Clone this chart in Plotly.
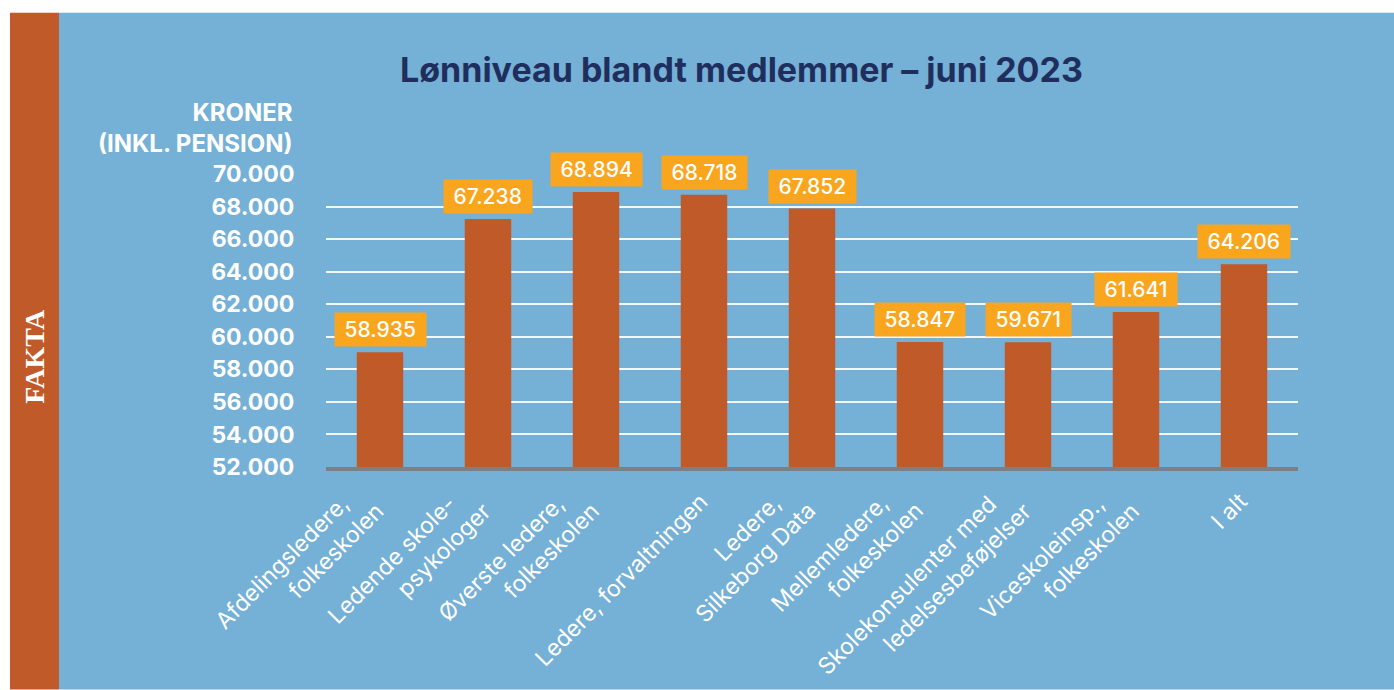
import plotly.graph_objects as go

# ---- data ----
categories = [
    "Afdelingsledere,<br>folkeskolen",
    "Ledende skole-<br>psykologer",
    "Øverste ledere,<br>folkeskolen",
    "Ledere, forvaltningen",
    "Ledere,<br>Silkeborg Data",
    "Mellemledere,<br>folkeskolen",
    "Skolekonsulenter med<br>ledelsesbeføjelser",
    "Viceskoleinsp.,<br>folkeskolen",
    "I alt",
]
# bar heights as drawn in the picture
bar_values = [59050, 67240, 68900, 68720, 67880, 59680, 59670, 61520, 64450]
# printed value labels
value_labels = ["58.935", "67.238", "68.894", "68.718", "67.852",
                "58.847", "59.671", "61.641", "64.206"]
y_ticks = [52000, 54000, 56000, 58000, 60000, 62000, 64000, 66000, 68000, 70000]
y_tick_text = ["52.000", "54.000", "56.000", "58.000", "60.000",
               "62.000", "64.000", "66.000", "68.000", "70.000"]

# ---- style ----
W, H = 1394, 690
L, R, T, B = 326, 1298, 173.5, 467
BLUE = "#75B0D6"
RUST = "#C05A28"
AMBER = "#F9A51D"
NAVY = "#1F2E5C"
FONT = "Inter"
NBSP = "\u00a0"


def px_x(p):
    return (p - L) / (R - L)


def px_y(p):
    return (B - p) / (B - T)


fig = go.Figure()
fig.add_trace(go.Bar(
    x=list(range(len(categories))), y=bar_values,
    marker=dict(color=RUST, line=dict(width=0)),
    width=0.43, hoverinfo="skip",
))

annotations = []
for i, (v, lab) in enumerate(zip(bar_values, value_labels)):
    annotations.append(dict(
        x=i, y=v, xref="x", yref="y", text=NBSP + lab + NBSP,
        showarrow=False, yanchor="bottom", xanchor="center", yshift=5,
        bgcolor=AMBER, borderpad=4,
        font=dict(family=FONT, size=21, color="white", weight=500),
    ))

# rotated category labels (first line set back a little, as in the source)
for i, cat in enumerate(categories):
    lines = cat.split("<br>")
    if len(lines) > 1:
        lines[0] = lines[0] + NBSP * 3
    n = len(lines)
    annotations.append(dict(
        x=i, xref="x", y=px_y(485 - 12 * (n - 1)), yref="paper",
        text="<br>".join(lines), showarrow=False, textangle=-45,
        xanchor="right", yanchor="top", align="right", xshift=12,
        font=dict(family=FONT, size=23, color="white", weight=400),
    ))

annotations.append(dict(
    x=px_x(295), y=px_y(127), xref="paper", yref="paper",
    text="KRONER<br>(INKL. PENSION)", showarrow=False,
    xanchor="right", yanchor="middle", align="right",
    font=dict(family=FONT, size=24, color="white", weight=700),
))
annotations.append(dict(
    x=px_x(741), y=px_y(69), xref="paper", yref="paper",
    text="Lønniveau blandt medlemmer – juni 2023", showarrow=False,
    xanchor="center", yanchor="middle",
    font=dict(family=FONT, size=34, color=NAVY, weight=700),
))
annotations.append(dict(
    x=px_x(34.5), y=px_y(356), xref="paper", yref="paper",
    text="FAKTA", showarrow=False, textangle=-90,
    xanchor="center", yanchor="middle",
    font=dict(family="Liberation Serif", size=28, color="white", weight=700),
))

shapes = [
    dict(type="rect", xref="paper", yref="paper", layer="below",
         x0=px_x(59), x1=px_x(W), y0=px_y(12), y1=px_y(H),
         fillcolor=BLUE, line=dict(width=0)),
    dict(type="rect", xref="paper", yref="paper", layer="below",
         x0=px_x(10), x1=px_x(59), y0=px_y(12), y1=px_y(H),
         fillcolor=RUST, line=dict(width=0)),
]

fig.update_layout(
    width=W, height=H,
    margin=dict(l=L, r=W - R, t=T, b=H - B, pad=0, autoexpand=False),
    paper_bgcolor="white", plot_bgcolor=BLUE,
    showlegend=False, bargap=0.57,
    annotations=annotations, shapes=shapes,
    xaxis=dict(
        tickmode="array", tickvals=list(range(len(categories))),
        showticklabels=False, range=[-0.5, len(categories) - 0.5],
        showgrid=False, zeroline=False, automargin=False,
        showline=True, linecolor="#7B8088", linewidth=4,
        ticks="", fixedrange=True,
    ),
    yaxis=dict(
        range=[52000, 70000], tickmode="array", tickvals=y_ticks, ticktext=y_tick_text,
        showgrid=True, gridcolor="rgba(255,255,255,0.9)", gridwidth=1.5,
        zeroline=False, showline=False, automargin=False,
        ticks="outside", ticklen=26, tickcolor="rgba(0,0,0,0)",
        tickfont=dict(family=FONT, size=23, color="white", weight=700),
        fixedrange=True,
    ),
)

fig.write_html(
    "out.html",
    config={"displayModeBar": False},
    post_script="document.body.style.margin='0px';document.body.style.overflow='hidden';",
)
